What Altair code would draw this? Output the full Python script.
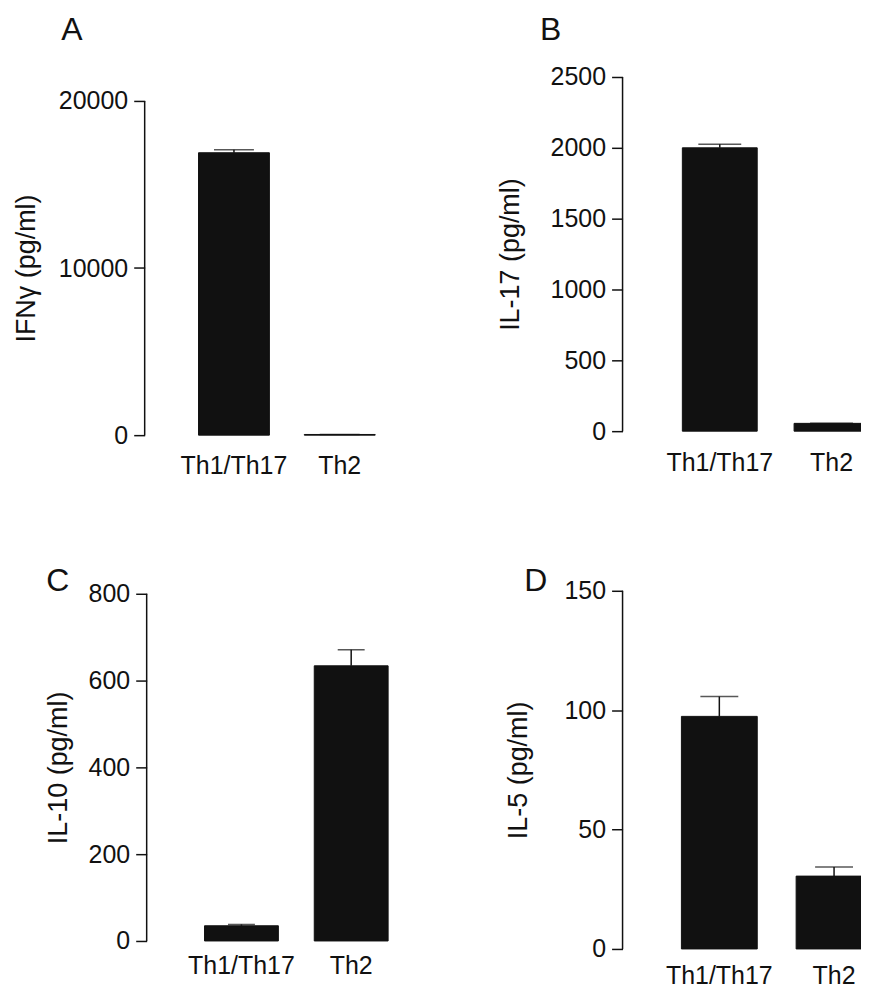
import altair as alt
import pandas as pd

# ---------------- data ----------------
groups = ["Th1/Th17", "Th2"]
panel_letters = ["A", "B", "C", "D"]
y_titles = ["IFNγ (pg/ml)", "IL-17 (pg/ml)", "IL-10 (pg/ml)", "IL-5 (pg/ml)"]

ifng_mean = [16900, 40]
ifng_sem = [180, 0]
il17_mean = [2000, 55]
il17_sem = [25, 0]
il10_mean = [35, 634]
il10_sem = [3, 37]
il5_mean = [97.4, 30.5]
il5_sem = [8.3, 3.8]

ifng_ticks = [0, 10000, 20000]
il17_ticks = [0, 500, 1000, 1500, 2000, 2500]
il10_ticks = [0, 200, 400, 600, 800]
il5_ticks = [0, 50, 100, 150]

FONT = "Liberation Sans"
INK = "#111111"


def panel(letter, title, means, sems, ticks, dom_max, width, height, xscale,
          title_x, letter_x, letter_y, cap_w, lab_pad, axis_shift=0, anchor=None):
    d = pd.DataFrame({
        "group": groups,
        "value": means,
        "hi": [m + s for m, s in zip(means, sems)],
    })
    ax_df = pd.DataFrame({"value": [ticks[0]], "hi": [ticks[-1]]})
    top_px = height * (1 - ticks[-1] / dom_max)
    yscale = alt.Scale(domain=[0, dom_max], nice=False, zero=True)
    yaxis = alt.Axis(
        values=ticks, format="d", domain=False, grid=False, offset=-axis_shift,
        tickSize=11, tickWidth=1.5, tickColor=INK,
        labelFont=FONT, labelFontSize=25, labelColor=INK, labelPadding=6,
        title=title, titleFont=FONT, titleFontSize=27, titleFontWeight="normal",
        titleColor=INK, titleX=title_x, titleY=(height + top_px) / 2,
        titleAngle=270, titleAlign="center", titleBaseline="middle",
    )
    xaxis = alt.Axis(
        title=None, domain=False, ticks=False, tickSize=0, labelAngle=0,
        labelFont=FONT, labelFontSize=25, labelColor=INK,
        labelPadding=lab_pad, labelBaseline="alphabetic",
    )
    x = alt.X("group:N", sort=groups, scale=xscale, axis=xaxis)

    axis_line = alt.Chart(ax_df).mark_rule(color=INK, strokeWidth=1.5).encode(
        x=alt.value(axis_shift),
        y=alt.Y("value:Q", scale=yscale, axis=yaxis),
        y2="hi:Q",
    )
    bars = alt.Chart(d).mark_bar(color=INK, stroke=INK, strokeWidth=1).encode(
        x=x, y=alt.Y("value:Q", scale=yscale, axis=yaxis)
    )
    err = alt.Chart(d).mark_rule(color=INK, strokeWidth=1.5).encode(
        x=x, y=alt.Y("value:Q", scale=yscale, axis=yaxis), y2="hi:Q"
    )
    cap = alt.Chart(d).mark_tick(color=INK, thickness=1.5, size=cap_w,
                                 orient="horizontal").encode(
        x=x, y=alt.Y("hi:Q", scale=yscale, axis=yaxis)
    )
    lab = alt.Chart(pd.DataFrame({"t": [letter]})).mark_text(
        font=FONT, fontSize=32, color=INK, align="center", baseline="middle"
    ).encode(text="t:N", x=alt.value(letter_x), y=alt.value(letter_y))
    layers = [axis_line, bars, err, cap, lab]
    if anchor is not None:
        # white page-corner anchor (invisible on the white background)
        layers.append(
            alt.Chart(pd.DataFrame({"t": [0]})).mark_rule(color="#ffffff", strokeWidth=1).encode(
                x=alt.value(anchor[0]), x2=alt.value(anchor[0] + 1), y=alt.value(anchor[1])
            )
        )
    return alt.layer(*layers).properties(width=width, height=height)


pA = panel(panel_letters[0], y_titles[0], ifng_mean, ifng_sem, ifng_ticks,
           20000 * 359 / 335, 285, 359,
           alt.Scale(paddingInner=0.33, paddingOuter=0.509),
           -118, -73, -47.5, 40, 38, anchor=(-136.5, -73.5))
pB = panel(panel_letters[1], y_titles[1], il17_mean, il17_sem, il17_ticks,
           2500, 250, 355,
           alt.Scale(paddingInner=0.330, paddingOuter=0.281, align=0.952),
           -112, -72, -47.5, 43, 39)
pC = panel(panel_letters[2], y_titles[2], il10_mean, il10_sem, il10_ticks,
           800 * 351 / 348, 285, 351,
           alt.Scale(paddingInner=0.327, paddingOuter=0.459, align=0.594),
           -88, -87, -10, 27, 33, axis_shift=2)
pD = panel(panel_letters[3], y_titles[3], il5_mean, il5_sem, il5_ticks,
           150, 250, 359,
           alt.Scale(paddingInner=0.339, paddingOuter=0.2565, align=1),
           -104, -87, -10, 38, 35)

chart = alt.concat(
    pA, pB, pC, pD, columns=2, spacing={"row": 156, "column": 194}, bounds="flush"
).properties(
    padding={"left": 0, "top": -6, "right": -12, "bottom": 1},
    background="#ffffff",
).configure_view(stroke=None)

chart.save("out.html", embed_options={"renderer": "svg", "actions": False})
